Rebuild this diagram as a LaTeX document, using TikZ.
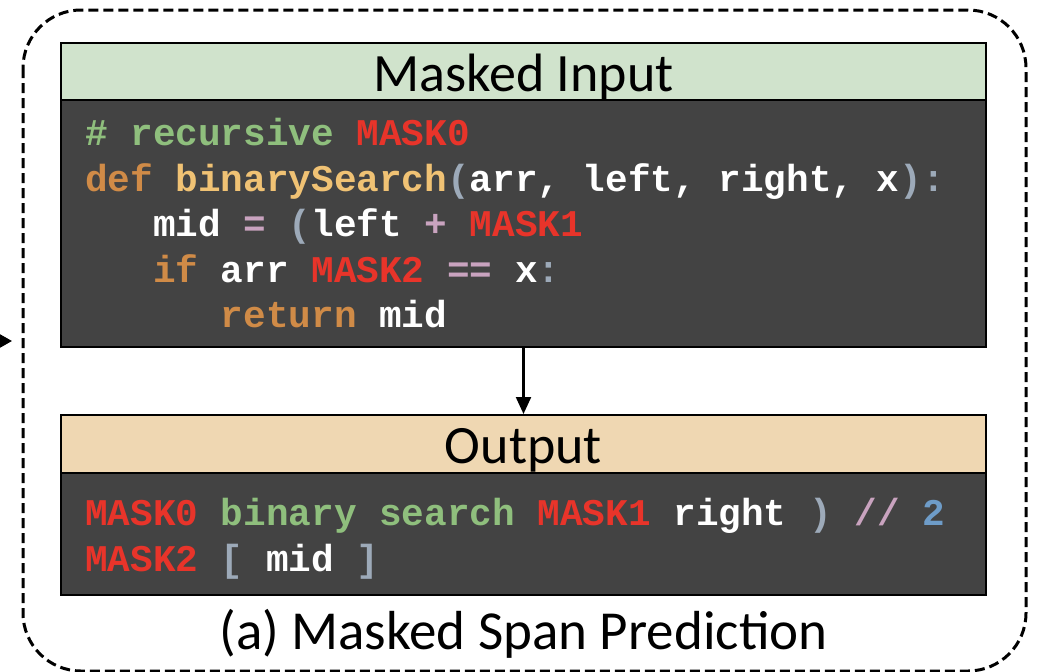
\documentclass[tikz,border=0pt]{standalone}
\usepackage{fontspec}
\setmainfont{Carlito}
\newfontfamily\codefont{Liberation Mono}
\usetikzlibrary{arrows.meta}

% palette
\definecolor{hdrgreen}{HTML}{D0E3CC}
\definecolor{hdrtan}{HTML}{EFD7B2}
\definecolor{codebg}{HTML}{434343}
\definecolor{cmt}{HTML}{8FBF7D}
\definecolor{maskred}{HTML}{E8342A}
\definecolor{kw}{HTML}{D08B47}
\definecolor{fn}{HTML}{F0C274}
\definecolor{punc}{HTML}{9DAAB9}
\definecolor{op}{HTML}{C9A3BF}
\definecolor{num}{HTML}{6E9CC8}

\newcommand{\mk}[1]{\textcolor{maskred}{#1}}
\newcommand{\kwd}[1]{\textcolor{kw}{#1}}
\newcommand{\fnc}[1]{\textcolor{fn}{#1}}
\newcommand{\pnc}[1]{\textcolor{punc}{#1}}
\newcommand{\opr}[1]{\textcolor{op}{#1}}
\newcommand{\cmm}[1]{\textcolor{cmt}{#1}}

\begin{document}
\begin{tikzpicture}[x=1pt,y=-1pt,
  header/.style={draw=black, line width=2pt, inner sep=0pt,
    minimum width=925pt, minimum height=57pt,
    font=\fontsize{54}{60}\selectfont, text depth=0pt},
  codebox/.style={draw=black, line width=2pt, fill=codebg, inner sep=0pt,
    minimum width=925pt},
  codetext/.style={anchor=north west, inner sep=0pt, align=left, text=white,
    font={\codefont\bfseries\fontsize{37.7}{45.5}\selectfont}},
  frame/.style={draw=black, line width=3pt, dash pattern=on 10pt off 5pt,
    rounded corners=58pt},
  flow/.style={draw=black, line width=2.2pt, -{Triangle[length=17pt,width=15pt]}}
]
\useasboundingbox (0,0) rectangle (1037,672);
\clip (0,0) rectangle (1037,672);

% outer dashed frame
\draw[frame] (23,10) rectangle (1026,671);

% incoming arrow on the left
\coordinate (feed) at (-30,341);
\coordinate (feedtip) at (12,341);
\draw[draw=black, line width=2pt, -{Triangle[length=12pt,width=13pt]}] (feed) -- (feedtip);

% masked input block
\node[header, fill=hdrgreen] (inhead) at (523.5,71.5) {\raisebox{-2pt}{Masked Input}};
\node[codebox, minimum height=247pt] (inbody) at (523.5,223.5) {};
\node[codetext] (incode) at (85,118) {%
\cmm{\# recursive} \mk{MASK0}\\
\kwd{def} \fnc{binarySearch}\pnc{(}arr, left, right, x\pnc{)}\pnc{:}\\
\phantom{xxx}mid \opr{=} \pnc{(}left \opr{+} \mk{MASK1}\\
\phantom{xxx}\kwd{if} arr \mk{MASK2} \opr{==} x\pnc{:}\\
\phantom{xxxxxx}\kwd{return} mid};

% output block
\node[header, fill=hdrtan, minimum height=58pt] (outhead) at (523.5,444) {\raisebox{-4pt}{Output}};
\node[codebox, minimum height=122pt] (outbody) at (523.5,534) {};
\node[codetext] (outcode) at (85,498) {%
\mk{MASK0} \cmm{binary search} \mk{MASK1} right \pnc{)} \opr{//} \textcolor{num}{2}\\
\mk{MASK2} \pnc{[} mid \pnc{]}};

\draw[flow] (inbody.south) -- (outhead.north);

% caption
\node[inner sep=0pt, font=\fontsize{55}{60}\selectfont] (caption) at (523.5,634) {(a) Masked Span Prediction};
\end{tikzpicture}
\end{document}
